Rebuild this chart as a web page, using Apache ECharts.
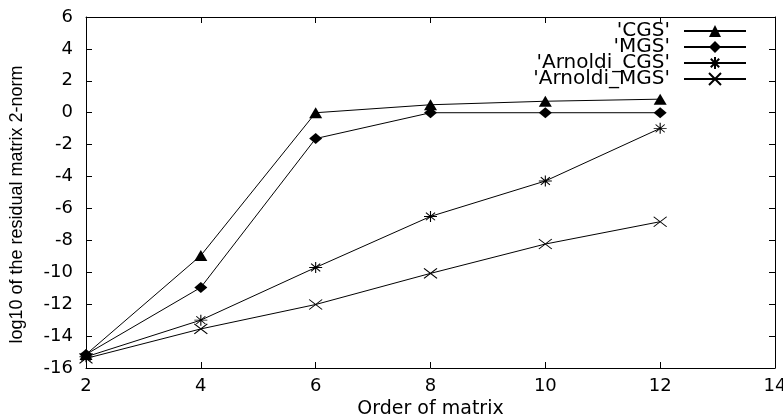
<!DOCTYPE html>
<html><head><meta charset="utf-8">
<script src="https://cdn.jsdelivr.net/npm/echarts@6/dist/echarts.min.js"></script>
<style>html,body{margin:0;padding:0;background:#fff}#c{width:783px;height:415px}</style>
</head><body><div id="c"></div>
<script>
var orders = [2, 4, 6, 8, 10, 12];
var cgs = [-15.15, -8.95, 0.0, 0.5, 0.72, 0.85];
var mgs = [-15.15, -10.95, -1.62, 0.0, 0.0, 0.0];
var arnoldiCgs = [-15.3, -13.0, -9.7, -6.5, -4.28, -0.98];
var arnoldiMgs = [-15.4, -13.55, -12.02, -10.07, -8.23, -6.83];
var seriesNames = ["'CGS'", "'MGS'", "'Arnoldi_CGS'", "'Arnoldi_MGS'"];
var xTicks = [2, 4, 6, 8, 10, 12, 14];
var yTicks = [-16, -14, -12, -10, -8, -6, -4, -2, 0, 2, 4, 6];

var FONT = 'DejaVu Sans';
var starPath = 'path://M0,5L10,5M5,0L5,10M1.5,1.5L8.5,8.5M8.5,1.5L1.5,8.5';
var crossPath = 'path://M0,0L10,10M10,0L0,10';

function pairs(vals){ return orders.map(function(x,i){ return [x, vals[i]]; }); }

function mk(name, vals, symbol, size, stroke){
  return {
    name: name, type: 'line', data: pairs(vals), symbol: symbol, symbolSize: size,
    symbolKeepAspect: false, showAllSymbol: true, animation: false,
    lineStyle: {color: '#000', width: 1},
    itemStyle: stroke ? {color: '#000', borderColor: '#000', borderWidth: 1} : {color: '#000', borderWidth: 0},
    emphasis: {disabled: true}
  };
}

var axLine = {show: true, onZero: false, lineStyle: {color: '#000', width: 1}};
var tick = {show: true, inside: true, length: 6, lineStyle: {color: '#000'}};
var lbl = {color: '#000', fontFamily: FONT, fontSize: 18};

var chart = echarts.init(document.getElementById('c'));
chart.setOption({
  backgroundColor: '#fff',
  animation: false,
  grid: {left: 86, right: 8, top: 17, bottom: 47, containLabel: false, outerBoundsMode: 'none'},
  legend: {
    orient: 'vertical', right: 36, top: 21, padding: 0, align: 'right',
    itemWidth: 62, itemHeight: 15, itemGap: -4,
    data: seriesNames,
    textStyle: {color: '#000', fontFamily: FONT, fontSize: 20, padding: [0, 9, 0, 0]},
    selectedMode: false
  },
  xAxis: [{
    type: 'value', min: 2, max: 14, interval: 2, position: 'bottom',
    axisLine: axLine, axisTick: tick, splitLine: {show: false},
    axisLabel: Object.assign({margin: 9}, lbl),
    name: 'Order of matrix', nameLocation: 'middle', nameGap: 32,
    nameTextStyle: {color: '#000', fontFamily: FONT, fontSize: 19}
  }, {
    type: 'value', min: 2, max: 14, interval: 2, position: 'top',
    axisLine: axLine, axisTick: tick, splitLine: {show: false}, axisLabel: {show: false}
  }],
  yAxis: [{
    type: 'value', min: -16, max: 6, interval: 2, position: 'left',
    axisLine: axLine, axisTick: tick, splitLine: {show: false},
    axisLabel: Object.assign({margin: 13}, lbl),
    name: 'log10 of the residual matrix 2-norm', nameLocation: 'middle', nameGap: 60,
    nameTextStyle: {color: '#000', fontFamily: 'Liberation Sans', fontSize: 18, padding: [0, 24, 0, 0]}
  }, {
    type: 'value', min: -16, max: 6, interval: 2, position: 'right',
    axisLine: axLine, axisTick: tick, splitLine: {show: false}, axisLabel: {show: false}
  }],
  series: [
    mk(seriesNames[0], cgs, 'triangle', [13, 11], false),
    mk(seriesNames[1], mgs, 'diamond', [13, 11], false),
    mk(seriesNames[2], arnoldiCgs, starPath, [13, 11], true),
    mk(seriesNames[3], arnoldiMgs, crossPath, [13, 10], true)
  ]
});
</script></body></html>
